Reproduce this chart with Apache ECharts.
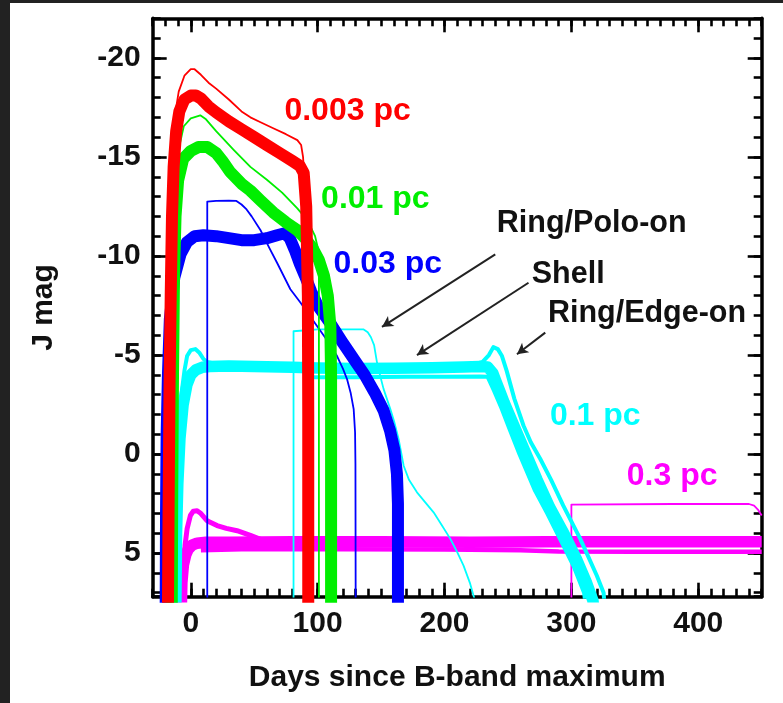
<!DOCTYPE html>
<html>
<head>
<meta charset="utf-8">
<script src="https://cdn.jsdelivr.net/npm/echarts@6/dist/echarts.min.js"></script>
<style>
  html, body { margin: 0; padding: 0; background: #ffffff; }
  #chart { width: 783px; height: 703px; }
</style>
</head>
<body>
<div id="chart"></div>
<script>
// Model J-band light curves of dust echoes: days since B-band maximum vs J magnitude.
const xTickLabels = [0, 100, 200, 300, 400];
const yTickLabels = [-20, -15, -10, -5, 0, 5];

// 0.003 pc
const red003Thick = [[-18,8],[-17.5,3],[-16.8,-3],[-15.8,-8],[-14.8,-12],[-13.5,-14.5],[-11.5,-16.3],[-9,-17.3],[-5,-17.9],[0,-18.1],[4,-18.1],[8,-17.95],[14,-17.55],[20,-17.25],[30,-16.8],[40,-16.4],[50,-16.0],[60,-15.6],[70,-15.2],[80,-14.8],[86,-14.55],[89,-14.2],[91,-12.5],[92.3,-8],[92.6,-2],[92.6,8]];
const red003Thin = [[-17,8],[-16,0],[-15,-8],[-14,-13.5],[-12,-17.3],[-9.5,-18.3],[-5,-19.1],[0,-19.43],[3,-19.43],[8,-19.15],[14,-18.75],[20,-18.45],[30,-17.9],[40,-17.3],[47,-17.0],[55,-16.75],[65,-16.45],[75,-16.15],[84,-15.85],[87,-15.6],[88.5,-15.0],[89.5,-14],[90,-10],[90,8]];

// 0.01 pc
const green001Thick = [[-15,8],[-14.6,2],[-14,-4],[-13.2,-9],[-12,-12],[-10,-13.8],[-6,-14.9],[0,-15.3],[6,-15.5],[13,-15.5],[20,-15.2],[25,-14.8],[31,-14.25],[40,-13.65],[47,-13.3],[55,-12.8],[65,-12.2],[75,-11.7],[84,-11.3],[90,-10.9],[96,-10.4],[101,-9.8],[105,-9.0],[108,-8.0],[110,-6.5],[110.6,-4],[110.6,8]];
const green001Thin = [[-14,8],[-13.5,0],[-12.5,-8],[-11,-13],[-9.5,-15.4],[-5.5,-16.55],[0,-16.95],[7.5,-17.1],[12,-16.9],[20,-16.3],[34,-15.35],[47,-14.5],[60,-13.85],[72,-13.2],[84,-12.4],[92,-11.8],[98,-11.0],[100.5,-10.3],[101,-9],[101,8]];

// 0.03 pc
const blue003Thick = [[-19.8,8],[-19.5,3],[-19,-1],[-18,-4],[-16.5,-6.8],[-13,-8.9],[-8,-10.1],[-3,-10.7],[3,-11.0],[10,-11.05],[20,-11.0],[30,-10.9],[40,-10.8],[50,-10.8],[60,-10.9],[68,-11.05],[74,-11.15],[78,-10.9],[82,-10.3],[86,-9.6],[90,-9.0],[95,-8.2],[100,-7.5],[110,-6.6],[120,-5.6],[130,-4.65],[137,-4.0],[145,-3.1],[152,-2.2],[157,-1.2],[160.5,-0.2],[162.5,1],[163.3,2.5],[163.3,8]];
const blue003Polo = [[13,8],[13,-12.74],[20,-12.78],[30,-12.8],[36,-12.78],[40,-12.6],[44,-12.35],[48,-12.0],[55,-11.3],[62,-10.4],[68,-9.66],[78.5,-8.32],[86.4,-7.65],[99.5,-6.47],[108,-5.7],[115.3,-4.95],[120,-4.3],[123.2,-3.78],[126,-3.1],[128.4,-2.27],[129.5,-1.1],[129.8,0.5],[130,8]];

// 0.1 pc
const cyan01Thick = [[-11.8,8],[-11.2,4],[-10.2,1.5],[-8.5,-0.8],[-6,-2.5],[-3,-3.5],[0,-4.0],[4,-4.25],[9,-4.38],[15,-4.42],[30,-4.45],[50,-4.42],[80,-4.38],[100,-4.35],[130,-4.32],[160,-4.33],[190,-4.36],[215,-4.4],[228,-4.42],[234,-4.4],[238,-4.1],[241,-3.6],[244,-3.1],[247,-2.6],[253,-1.7],[261,-0.5],[273,1.3],[283,2.7],[294,4.0],[304,5.3],[312,6.5],[317,7.4],[318,8]];
const cyan01Lower = [[90,-3.88],[130,-3.88],[170,-3.9],[200,-3.9],[228,-3.92],[234,-3.9],[239,-3.2],[245,-2.3],[251,-1.3],[259,0],[271,1.8],[281,3.0],[292,4.4],[302,5.7],[310,7.0],[312,8]];
const cyan01Edge = [[-12.5,8],[-11.5,3],[-9.5,-1],[-7,-3.2],[-5,-4.2],[-2.9,-4.95],[0,-5.25],[3.6,-5.3],[7,-5.1],[10,-4.8],[13,-4.65],[20,-4.55],[40,-4.5],[100,-4.45],[200,-4.45],[222,-4.5],[230,-4.65],[235,-5.0],[238.5,-5.4],[240,-5.46],[242,-5.3],[245.3,-4.95],[249,-4.2],[255,-2.8],[262.3,-1.43],[268,-0.6],[275.5,0.25],[284,1.3],[293.6,2.6],[307,4.28],[320,6.13],[325.4,7.0],[326.5,8]];
const cyan01Polo = [[81,8],[81,-6.2],[82,-6.3],[100,-6.3],[120,-6.3],[136,-6.3],[139.5,-6.15],[142,-5.9],[144.5,-5.5],[146.8,-4.62],[149.5,-3.9],[152,-3.28],[157.3,-2.27],[160.5,-1.6],[163.8,-0.76],[167.8,0.59],[172,1.3],[178.3,1.93],[185,2.45],[191.4,2.94],[198,3.6],[204.6,4.28],[210,4.95],[215,5.63],[220,6.5],[224,7.4],[225,8]];

// 0.3 pc
const magenta03Thick = [[-7.5,8],[-7,6.5],[-5.8,5.6],[-4,5.1],[-2,4.8],[1,4.6],[5,4.5],[12,4.45],[30,4.45],[80,4.43],[150,4.43],[220,4.45],[280,4.43],[350,4.42],[450,4.42]];
const magenta03Lower = [[8,4.85],[40,4.8],[120,4.8],[200,4.82],[260,4.85],[290,4.92],[350,4.93],[450,4.93]];
const magenta03Bump = [[-6,8],[-5.5,6],[-4.5,4.6],[-2.9,3.78],[-0.3,3.1],[2,2.88],[5,2.86],[8,3.0],[12.8,3.36],[20.7,3.61],[28,3.75],[36.5,3.87],[47,4.1],[55,4.3]];
const magenta03Polo = [[300,8],[300,2.55],[301,2.52],[380,2.52],[440,2.52],[444,2.6],[447,2.8],[450,3.1]];

const RED = '#ff0000', GREEN = '#00ee00', BLUE = '#0000ff', CYAN = '#00ffff', MAGENTA = '#ff00ff';
const INK = '#111111';
const FONT = '"Liberation Sans", Arial, Helvetica, sans-serif';

const chart = echarts.init(document.getElementById('chart'), null, { renderer: 'canvas' });

function curve(data, color, width, z) {
  return {
    type: 'line', data: data, symbol: 'none', showSymbol: false,
    lineStyle: { color: color, width: width, join: 'round', cap: 'butt' },
    z: z, silent: true, animation: false, clip: true
  };
}

const GRID = { left: 152.7, top: 18.3, right: 21.3, bottom: 106.3 };

function xAxisDef(position, major) {
  return {
    type: 'value', gridIndex: 0, position: position, min: -30, max: 450,
    interval: major ? 100 : 10,
    axisLine: { show: !major, onZero: false, lineStyle: { color: '#000', width: 3.5 } },
    axisTick: {
      show: true, inside: true, length: major ? 14 : 8,
      lineStyle: { color: '#000', width: 2.6 },
      customValues: major ? xTickLabels : undefined
    },
    axisLabel: {
      show: major && position === 'bottom', customValues: xTickLabels,
      margin: 12, color: INK, fontSize: 30, fontWeight: 'bold', fontFamily: FONT
    },
    splitLine: { show: false },
    name: (major && position === 'bottom') ? 'Days since B-band maximum' : '',
    nameLocation: 'middle', nameGap: 66,
    nameTextStyle: { color: INK, fontSize: 30, fontWeight: 'bold', fontFamily: FONT }
  };
}

function yAxisDef(position, major) {
  return {
    type: 'value', gridIndex: 0, position: position, min: -22, max: 7.2, inverse: true,
    interval: major ? 5 : 1,
    axisLine: { show: !major, onZero: false, lineStyle: { color: '#000', width: 3.5 } },
    axisTick: {
      show: true, inside: true, length: major ? 14 : 8,
      lineStyle: { color: '#000', width: 2.6 },
      customValues: major ? yTickLabels : undefined
    },
    axisLabel: {
      show: major && position === 'left', customValues: yTickLabels,
      margin: 12, color: INK, fontSize: 30, fontWeight: 'bold', fontFamily: FONT
    },
    splitLine: { show: false },
    name: (major && position === 'left') ? 'J mag' : '',
    nameLocation: 'middle', nameGap: 94,
    nameTextStyle: { color: INK, fontSize: 30, fontWeight: 'bold', fontFamily: FONT }
  };
}

const option = {
  backgroundColor: '#ffffff',
  animation: false,
  grid: Object.assign({ outerBoundsMode: 'none', containLabel: false }, GRID),
  xAxis: [xAxisDef('bottom', false), xAxisDef('bottom', true), xAxisDef('top', false), xAxisDef('top', true)],
  yAxis: [yAxisDef('left', false), yAxisDef('left', true), yAxisDef('right', false), yAxisDef('right', true)],
  series: [
    curve(magenta03Thick, MAGENTA, 11.5, 2),
    curve(magenta03Lower, MAGENTA, 4.5, 2),
    curve(magenta03Bump, MAGENTA, 5, 2),
    curve(magenta03Polo, MAGENTA, 1.8, 2),
    curve(cyan01Thick, CYAN, 11.5, 3),
    curve(cyan01Lower, CYAN, 4, 3),
    curve(cyan01Edge, CYAN, 4, 3),
    curve(cyan01Polo, CYAN, 1.8, 3),
    curve(blue003Thick, BLUE, 12, 4),
    curve(blue003Polo, BLUE, 1.8, 4),
    curve(green001Thick, GREEN, 12, 5),
    curve(green001Thin, GREEN, 1.8, 5),
    curve(red003Thick, RED, 12, 6),
    curve(red003Thin, RED, 1.8, 6),
    {
      // annotation arrows pointing at the geometry variants
      type: 'line', data: [], silent: true, animation: false, z: 7,
      markLine: {
        silent: true, animation: false,
        symbol: ['none', 'arrow'], symbolSize: [9, 11],
        label: { show: false },
        lineStyle: { color: '#222', width: 2, type: 'solid' },
        data: [
          [{ coord: [240, -10.08] }, { coord: [150.7, -6.42] }],
          [{ coord: [266.2, -8.65] }, { coord: [178.3, -5.0] }],
          [{ coord: [279.4, -6.13] }, { coord: [257.1, -5.04] }]
        ]
      }
    }
  ]
};

chart.setOption(option);

// Text annotations anchored in data coordinates
const notes = [
  { text: '0.003 pc', at: [123.6, -17.3], color: RED, size: 32 },
  { text: '0.01 pc', at: [145.5, -12.85], color: GREEN, size: 32 },
  { text: '0.03 pc', at: [155.3, -9.6], color: BLUE, size: 32 },
  { text: 'Ring/Polo-on', at: [316, -11.65], color: INK, size: 30.5 },
  { text: 'Shell', at: [297.5, -9.05], color: INK, size: 30.5 },
  { text: 'Ring/Edge-on', at: [359.6, -7.1], color: INK, size: 30.5 },
  { text: '0.1 pc', at: [318.8, -1.9], color: CYAN, size: 32 },
  { text: '0.3 pc', at: [379.4, 1.1], color: MAGENTA, size: 32 }
];

const graphics = [
  { type: 'rect', left: 0, top: 0, shape: { width: 10, height: 703 }, style: { fill: '#222222' }, silent: true },
  { type: 'rect', left: 0, top: 0, shape: { width: 783, height: 3 }, style: { fill: '#222222' }, silent: true }
];
notes.forEach(function (n) {
  const p = chart.convertToPixel({ xAxisIndex: 0, yAxisIndex: 0 }, n.at);
  graphics.push({
    type: 'text', x: p[0], y: p[1], silent: true, z: 10,
    style: {
      text: n.text, fill: n.color, fontSize: n.size, fontWeight: 'bold', fontFamily: FONT,
      align: 'center', verticalAlign: 'middle'
    }
  });
});
chart.setOption({ graphic: graphics });
</script>
</body>
</html>
